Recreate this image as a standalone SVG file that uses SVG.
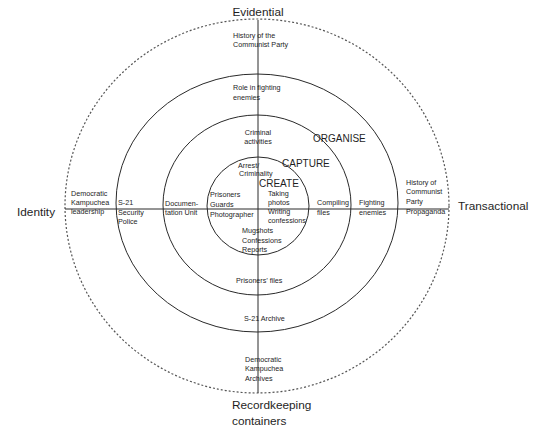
<svg xmlns="http://www.w3.org/2000/svg" width="539" height="432" viewBox="0 0 539 432">
<style>
.ring{fill:none;stroke:#2a2a2a;stroke-width:1}
.dash{fill:none;stroke:#555;stroke-width:1.2;stroke-dasharray:2 2}
.ax{stroke:#2a2a2a;stroke-width:1}
text{font-family:"Liberation Sans",Arial,sans-serif;fill:#1e1e1e}
.s{font-size:7.2px}
.big{font-size:11.8px}
.mid{font-size:10px}
.c{text-anchor:middle}
</style>
<rect width="539" height="432" fill="#fff"/>
<g id="rings">
<ellipse id="ring-outer" class="dash" cx="257" cy="206" rx="192" ry="187"/>
<ellipse id="ring-organise" class="ring" cx="257" cy="203" rx="141" ry="129"/>
<ellipse id="ring-capture" class="ring" cx="257" cy="205" rx="94" ry="90"/>
<ellipse id="ring-create" class="ring" cx="258" cy="206" rx="51" ry="49"/>
</g>
<g id="connectors">
<line class="ax" x1="65" y1="209" x2="449" y2="209"/>
<line class="ax" x1="258" y1="20" x2="258" y2="393"/>
</g>
<g id="axis-labels">
<text id="evidential" class="big c" x="258" y="16">Evidential</text>
<text id="identity" class="big" x="17" y="216">Identity</text>
<text id="transactional" class="big" x="458" y="210">Transactional</text>
<g id="recordkeeping"><text class="big" x="232" y="409">Recordkeeping</text><text class="big" x="232" y="425">containers</text></g>
</g>
<g id="dimension-labels">
<text id="organise" class="mid" x="313" y="142" font-size="10.4">ORGANISE</text>
<text id="capture" class="mid" x="282" y="167" font-size="9.6">CAPTURE</text>
<text id="create" class="mid" x="259" y="187" font-size="9.2">CREATE</text>
</g>
<g id="n-history-party" class="s"><text x="233" y="37.5">History of the</text><text x="233" y="46.5">Communist Party</text></g>
<g id="n-role" class="s"><text x="233" y="89.5">Role in fighting</text><text x="233" y="99.5">enemies</text></g>
<g id="n-criminal" class="s"><text class="c" x="258" y="134.5">Criminal</text><text class="c" x="258" y="144">activities</text></g>
<g id="n-arrest" class="s"><text x="238" y="167.5">Arrest/</text><text x="239" y="176">Criminality</text></g>
<g id="n-taking" class="s"><text x="268" y="195.5">Taking</text><text x="268" y="204.5">photos</text><text x="268" y="213.5">Writing</text><text x="268" y="223">confessions</text></g>
<g id="n-prisoners" class="s"><text x="210" y="197">Prisoners</text><text x="210" y="207">Guards</text><text x="210" y="217">Photographer</text></g>
<g id="n-mugshots" class="s"><text x="242" y="232.5">Mugshots</text><text x="242" y="242.5">Confessions</text><text x="242" y="252">Reports</text></g>
<g id="n-compiling" class="s"><text x="317" y="204.5">Compiling</text><text x="317" y="214.5">files</text></g>
<g id="n-fighting" class="s"><text x="359" y="204.5">Fighting</text><text x="359" y="214.5">enemies</text></g>
<g id="n-propaganda" class="s"><text x="406" y="184.5">History of</text><text x="406" y="194">Communist</text><text x="406" y="204">Party</text><text x="406" y="214">Propaganda</text></g>
<g id="n-dk-leadership" class="s"><text x="71" y="196">Democratic</text><text x="71" y="205">Kampuchea</text><text x="71" y="214">leadership</text></g>
<g id="n-s21-police" class="s"><text x="118" y="205">S-21</text><text x="118" y="215">Security</text><text x="118" y="224">Police</text></g>
<g id="n-documentation" class="s"><text x="165" y="206">Documen-</text><text x="165" y="215">tation Unit</text></g>
<g id="n-prisoners-files" class="s"><text x="236" y="282.5">Prisoners’ files</text></g>
<g id="n-s21-archive" class="s"><text x="244" y="320.5">S-21 Archive</text></g>
<g id="n-dk-archives" class="s"><text x="245" y="362">Democratic</text><text x="245" y="371">Kampuchea</text><text x="245" y="380.5">Archives</text></g>
</svg>
